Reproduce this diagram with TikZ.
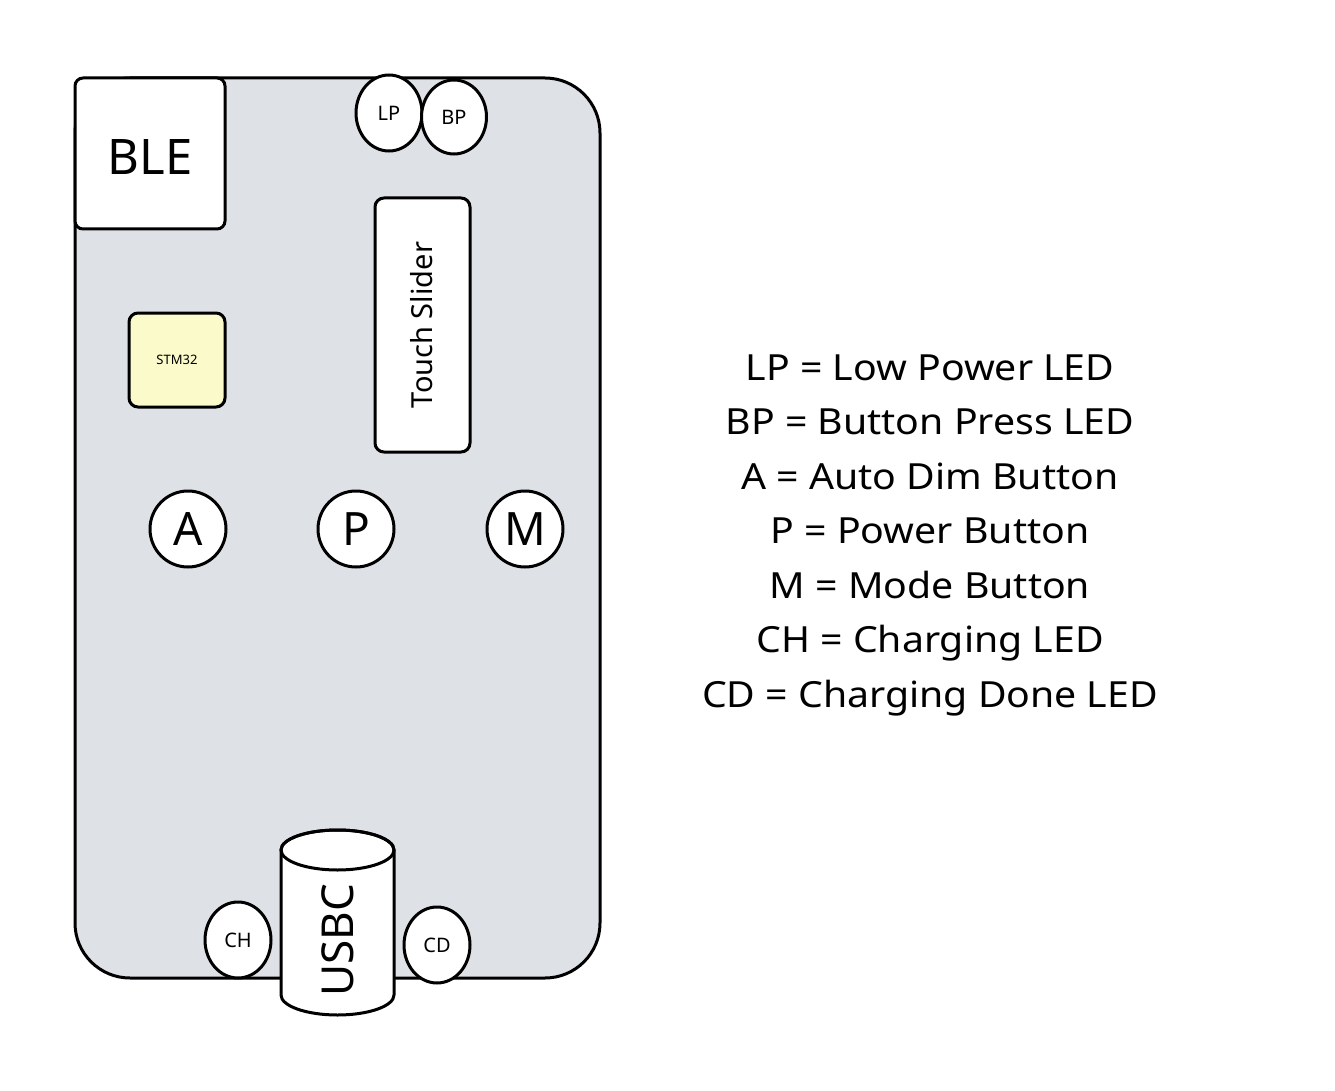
\documentclass[tikz,border=0pt]{standalone}
\usepackage{fontspec}
\setmainfont{Noto Sans}
\newfontfamily\legendfont{Noto Sans}[FakeStretch=1.09]
\usetikzlibrary{shapes.geometric}
\begin{document}
\begin{tikzpicture}[x=1pt,y=-1pt,
  outl/.style={draw=black,line width=3pt},
  led/.style={outl,fill=white,ellipse,minimum width=66pt,minimum height=76pt,inner sep=0pt,font=\fontsize{20}{24}\selectfont},
  btn/.style={outl,fill=white,circle,minimum size=76pt,inner sep=0pt,font=\fontsize{46}{50}\selectfont},
  legend/.style={font=\legendfont\fontsize{36}{40}\selectfont,anchor=base}]
\useasboundingbox[fill=white] (0,0) rectangle (1335,1091);
% board
\draw[outl,fill={rgb,255:red,222;green,225;blue,230},rounded corners=55pt] (75,78) rectangle (600,978);
% BLE
\draw[outl,fill=white,rounded corners=8pt] (75,78) rectangle (225,229);
\node[font=\fontsize{49}{54}\selectfont] (ble) at (150,157) {BLE};
% LEDs top
\node[led] (lp) at (389,113) {LP};
\node[led,minimum width=65pt,minimum height=74pt] (bp) at (454,117) {BP};
% Touch slider
\draw[outl,fill=white,rounded corners=9pt] (375,198) rectangle (470,452);
\node[rotate=90,font=\fontsize{29}{32}\selectfont] (ts) at (422,325) {Touch Slider};
% STM32
\draw[outl,fill={rgb,255:red,251;green,250;blue,203},rounded corners=9pt] (129,313) rectangle (225,407);
\node[font=\fontsize{13}{15}\selectfont] (stm) at (177,360) {STM32};
% buttons
\node[btn] (a) at (188,529) {A};
\node[btn] (p) at (356,529) {P};
\node[btn] (m) at (525,529) {M};
% charging LEDs
\node[led] (ch) at (238,940) {CH};
\node[led] (cd) at (437,945) {CD};
% USBC cylinder
\draw[outl,fill=white] (281,850) -- (281,995) arc[start angle=180,end angle=360,x radius=56.5pt,y radius=20pt] -- (394,850) arc[start angle=0,end angle=180,x radius=56.5pt,y radius=20pt] -- cycle;
\draw[outl] (337.5,850) ellipse[x radius=56.5pt,y radius=20pt];
\node[rotate=90,font=\fontsize{44}{48}\selectfont] (usbc) at (338,940) {USBC};
% legend
\node[legend] (l1) at (930,380) {LP = Low Power LED};
\node[legend] (l2) at (930,434.5) {BP = Button Press LED};
\node[legend] (l3) at (930,489) {A = Auto Dim Button};
\node[legend] (l4) at (930,543.5) {P = Power Button};
\node[legend] (l5) at (930,598) {M = Mode Button};
\node[legend] (l6) at (930,652.5) {CH = Charging LED};
\node[legend] (l7) at (930,707) {CD = Charging Done LED};
\end{tikzpicture}
\end{document}
